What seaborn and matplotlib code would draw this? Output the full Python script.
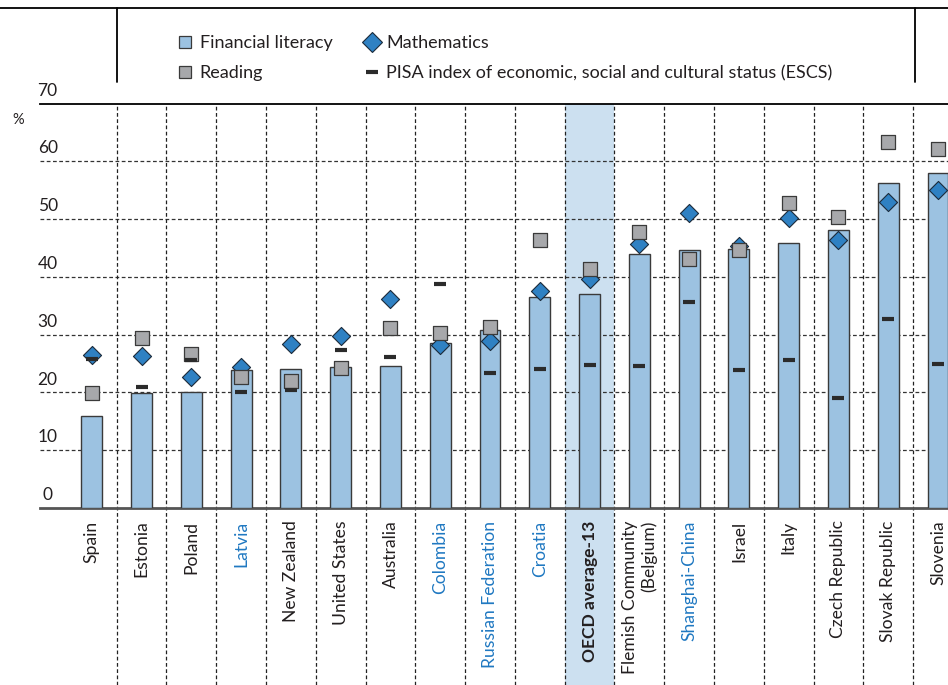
import numpy as np
import pandas as pd
import matplotlib
matplotlib.use("Agg")
import matplotlib.pyplot as plt
import seaborn as sns
from matplotlib.lines import Line2D

# ---------------- data ----------------
categories = ["Spain", "Estonia", "Poland", "Latvia", "New Zealand", "United States",
              "Australia", "Colombia", "Russian Federation", "Croatia", "OECD average-13",
              "Flemish Community\n(Belgium)", "Shanghai-China", "Israel", "Italy",
              "Czech Republic", "Slovak Republic", "Slovenia"]
financial = [16.0, 19.9, 20.1, 23.8, 24.1, 24.4, 24.6, 28.5, 30.8, 36.5, 37.1,
             44.0, 44.7, 44.9, 45.9, 48.1, 56.3, 58.0]
mathematics = [26.4, 26.3, 22.7, 24.4, 28.3, 29.8, 36.1, 28.2, 28.9, 37.5, 39.6,
               45.6, 51.1, 45.4, 50.2, 46.4, 53.0, 55.1]
reading = [19.9, 29.4, 26.6, 22.7, 22.0, 24.2, 31.2, 30.2, 31.3, 46.4, 41.4,
           47.7, 43.1, 44.6, 52.8, 50.3, 63.3, 62.2]
escs = [25.7, 21.0, 25.6, 20.0, 20.4, 27.3, 26.2, 38.8, 23.3, 24.1, 24.7,
        24.5, 35.6, 23.8, 25.6, 19.0, 32.7, 25.0]
partners = ["Latvia", "Colombia", "Russian Federation", "Croatia", "Shanghai-China"]
highlight = "OECD average-13"
yticks = [0, 10, 20, 30, 40, 50, 60, 70]

# ---------------- style ----------------
sns.set_theme(style="white")
plt.rcParams["font.family"] = ["Lato", "DejaVu Sans"]
TXT = "#231f20"
BAR = "#9cc2e1"
EDGE = "#3a3a3a"
MATHC = "#2f81c3"
READC = "#a7a8ab"
BLUE_LBL = "#1f78c1"
BAND = "#cce0f0"

W, H = 948, 685
fig = plt.figure(figsize=(W / 100, H / 100), dpi=100)
ax_l, ax_r, ax_b, ax_t = 40 / W, 1.0, 1 - 508 / H, 1 - 103.5 / H
ax = fig.add_axes([ax_l, ax_b, ax_r - ax_l, ax_t - ax_b])

df = pd.DataFrame({"cat": categories, "fin": financial, "math": mathematics,
                   "read": reading, "escs": escs})
df["pos"] = np.arange(len(df))
n = len(df)

# bars
sns.barplot(data=df, x="cat", y="fin", color=BAR, width=0.42, edgecolor=EDGE,
            linewidth=1.0, saturation=1, ax=ax, zorder=3)

# markers
sns.scatterplot(data=df, x="pos", y="math", marker="D", s=85, color=MATHC,
                edgecolor="#1b2a3a", linewidth=0.8, ax=ax, zorder=4, legend=False)
sns.scatterplot(data=df, x="pos", y="read", marker="s", s=92, color=READC,
                edgecolor=EDGE, linewidth=0.9, ax=ax, zorder=5, legend=False)
sns.scatterplot(data=df, x="pos", y="escs", marker="_", s=75, color="#2b2b2b",
                linewidth=3.0, ax=ax, zorder=6, legend=False)

ax.set_xlim(-1.04, 17.2)
ax.set_ylim(0, 70)
ax.set_xlabel("")
ax.set_ylabel("")

# grid lines
dash = (0, (3, 2))
for v in yticks[1:-1]:
    ax.axhline(v, color="#333333", lw=0.9, ls=dash, zorder=1)
ext = -(685 - 508) / (508 - 103.5)
for k in range(n - 1):
    ax.axvline(k + 0.5, ymin=ext, ymax=1, color="#222222", lw=0.9, ls=dash,
               clip_on=False, zorder=1)
hi = categories.index(highlight)
ax.axvspan(hi - 0.5, hi + 0.5, ymin=ext, ymax=1, color=BAND, lw=0,
           clip_on=False, zorder=0)

# spines
for s in ["left", "right"]:
    ax.spines[s].set_visible(False)
ax.spines["top"].set_color("black")
ax.spines["top"].set_linewidth(1.3)
ax.spines["bottom"].set_color("#555555")
ax.spines["bottom"].set_linewidth(2.0)

# y tick labels (above gridlines)
ax.set_yticks(yticks)
ax.set_yticklabels([])
ax.tick_params(axis="y", length=0)
for v in yticks:
    ax.annotate(str(v), xy=(0, v), xycoords=("axes fraction", "data"),
                xytext=(5.5, 3.5), textcoords="offset points", ha="center",
                va="bottom", fontsize=12.5, color=TXT)
fig.text(18 / W, 1 - 120 / H, "%", ha="center", va="center", fontsize=10.5, color=TXT)

# x tick labels
ax.set_xticks(range(n))
ax.set_xticklabels(categories, rotation=90, fontsize=12.6, va="top", ha="center",
                   multialignment="right")
ax.tick_params(axis="x", length=0, pad=9)
for lbl, c in zip(ax.get_xticklabels(), categories):
    if c in partners:
        lbl.set_color(BLUE_LBL)
    else:
        lbl.set_color(TXT)
    if c == highlight:
        lbl.set_fontweight("bold")

# legend box lines
fig.add_artist(Line2D([0, 1], [1 - 8 / H] * 2, transform=fig.transFigure,
                      color="black", lw=1.3))
for xp in (117, 915):
    fig.add_artist(Line2D([xp / W] * 2, [1 - 8 / H, 1 - 82 / H],
                          transform=fig.transFigure, color="black", lw=1.3))

handles = [
    Line2D([], [], marker="s", ls="none", ms=9, mfc=BAR, mec=EDGE, mew=0.9),
    Line2D([], [], marker="s", ls="none", ms=9, mfc=READC, mec=EDGE, mew=0.9),
    Line2D([], [], marker="D", ls="none", ms=10, mfc=MATHC, mec="#1b2a3a", mew=0.8),
    Line2D([], [], marker="_", ls="none", ms=8, color="#2b2b2b", mew=3),
]
labels = ["Financial literacy", "Reading", "Mathematics",
          "PISA index of economic, social and cultural status (ESCS)"]
fig.legend(handles, labels, ncol=2, loc="upper left",
           bbox_to_anchor=(177 / W, 1 - 35 / H), frameon=False, fontsize=13,
           handlelength=0.9, handletextpad=0.35, columnspacing=1.75,
           labelspacing=0.78, borderpad=0, borderaxespad=0, labelcolor=TXT)

fig.savefig("out.png", dpi=100)
